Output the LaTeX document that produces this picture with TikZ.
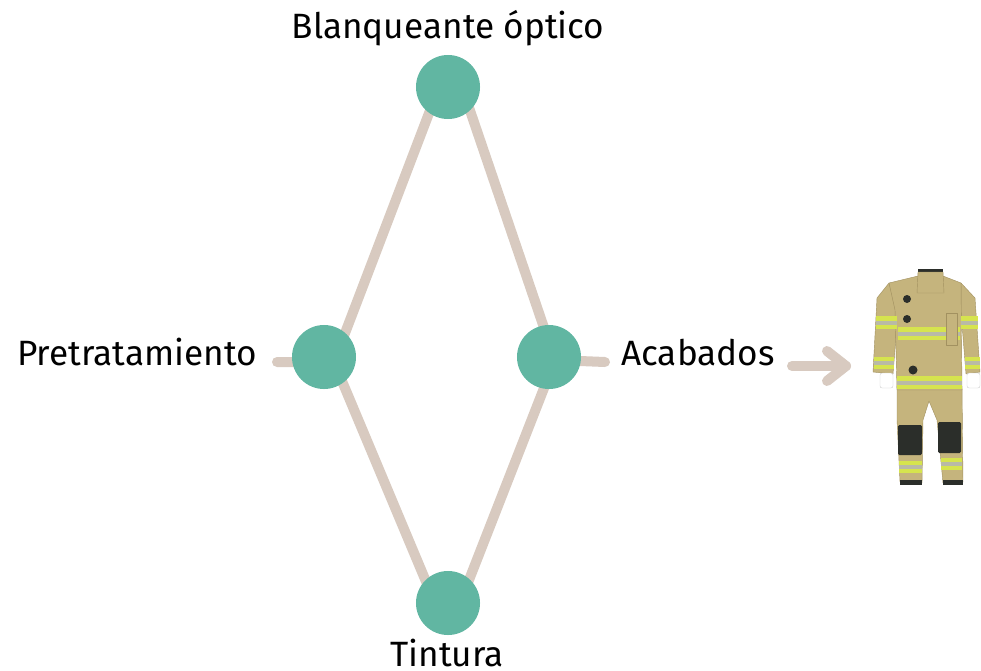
\documentclass[tikz,border=0pt]{standalone}
\usepackage{fontspec}
\setmainfont{Fira Sans}
\usetikzlibrary{positioning}
\definecolor{stagegreen}{HTML}{61B6A2}
\definecolor{linktan}{HTML}{D8CAC0}
\definecolor{suitkhaki}{HTML}{C5B47D}
\definecolor{suitdark}{HTML}{A29160}
\definecolor{tapelime}{HTML}{D6E44E}
\definecolor{tapegray}{HTML}{B9BAA6}
\definecolor{padblack}{HTML}{2B2E2A}
\tikzset{
  stage/.style={circle,fill=stagegreen,minimum size=1.6cm,inner sep=0pt},
  link/.style={draw=linktan,line width=0.25cm,line cap=round,line join=round},
  stage label/.style={font=\fontsize{25}{30}\selectfont,text=black,inner sep=0pt},
  suit part/.style={fill=suitkhaki,draw=suitdark,line width=0.3pt,line join=round},
  tape/.style={fill=tapelime,draw=none},
  tape core/.style={fill=tapegray,draw=none},
  pad/.style={fill=padblack,draw=none,rounded corners=1pt},
  glove/.style={fill=white,draw=gray!40,line width=0.3pt,rounded corners=1.5pt}
}
\begin{document}
\begin{tikzpicture}[x=0.025cm,y=-0.025cm]
  \useasboundingbox (0,0) rectangle (981,671);

  % diamond of process links
  \coordinate (top-a)      at (439,87);
  \coordinate (top-b)      at (462,87);
  \coordinate (bot-a)      at (435,603);
  \coordinate (bot-b)      at (460,603);
  \coordinate (left-join)  at (334,362);
  \coordinate (right-join) at (555,360);
  \coordinate (left-end)   at (277,362);
  \coordinate (right-end)  at (605,362);
  \draw[link] (left-end) -- (left-join) -- (top-a);
  \draw[link] (left-join) -- (bot-a);
  \draw[link] (right-end) -- (right-join) -- (top-b);
  \draw[link] (right-join) -- (bot-b);

  \node[stage] (blanq) at (448,87)  {};
  \node[stage] (pre)   at (324,357) {};
  \node[stage] (acab)  at (549,357) {};
  \node[stage] (tint)  at (448,603) {};

  \node[stage label,anchor=base]      (blanq-lbl) at (448,38)  {Blanqueante óptico};
  \node[stage label,anchor=base east] (pre-lbl)   at (257,365) {Pretratamiento};
  \node[stage label,anchor=base west] (acab-lbl)  at (621,365) {Acabados};
  \node[stage label,anchor=base]      (tint-lbl)  at (447,666) {Tintura};

  % arrow to the suit
  \coordinate (arr-start) at (792,366);
  \coordinate (arr-tip)   at (846,366);
  \draw[link] (arr-start) -- (arr-tip);
  \draw[link] ([shift={(-19,-15)}]arr-tip) -- (arr-tip) -- ([shift={(-19,15)}]arr-tip);

  % firefighter suit
  \begin{scope}
    % trousers
    \draw[suit part] (897,386) -- (962,386) -- (963,482) -- (943,483) -- (937,420)
      -- (929,401) -- (923,420) -- (922,483) -- (900,482) -- (897,420) -- cycle;
    \fill[pad] (898,425) rectangle (922,455);
    \fill[pad] (938,422) rectangle (961,453);
    \fill[tape] (899,461) rectangle (922,473);
    \fill[tape core] (899,465) rectangle (922,469);
    \fill[tape] (941,458) rectangle (962,470);
    \fill[tape core] (941,462) rectangle (962,466);
    \fill[padblack] (900,480) rectangle (922,485);
    \fill[padblack] (943,480) rectangle (963,485);
    % sleeves
    \draw[suit part] (889,283) -- (877,298) -- (873,372) -- (893,374) -- (898,312) -- cycle;
    \draw[suit part] (961,283) -- (975,298) -- (980,372) -- (966,374) -- (961,312) -- cycle;
    % jacket body
    \draw[suit part] (889,283) -- (918,276) -- (943,276) -- (961,283) -- (962,390)
      -- (897,390) -- (895,310) -- cycle;
    \fill[padblack] (918,269) rectangle (943,278);
    \draw[suit part] (918,272) -- (943,272) -- (944,293) -- (917,293) -- cycle;
    % reflective tape
    \fill[tape] (898,327) rectangle (960,340);
    \fill[tape core] (898,331.5) rectangle (960,335.5);
    \fill[tape] (897,376) rectangle (962,389);
    \fill[tape core] (897,380.5) rectangle (962,384.5);
    \fill[tape] (876,316) rectangle (897,329);
    \fill[tape core] (876,320.5) rectangle (897,324.5);
    \fill[tape] (961,316) rectangle (978,329);
    \fill[tape core] (961,320.5) rectangle (978,324.5);
    \fill[tape] (874,357) rectangle (894,369);
    \fill[tape core] (874,361) rectangle (894,365);
    \fill[tape] (965,357) rectangle (980,369);
    \fill[tape core] (965,361) rectangle (980,365);
    % pocket and badges
    \draw[suit part] (946,313) rectangle (957,345);
    \fill[padblack] (907,299) circle (4);
    \fill[padblack] (907,319) circle (4);
    \fill[padblack] (913,370) circle (4.5);
    % gloves
    \draw[glove] (880,373) rectangle (893,388);
    \draw[glove] (967,373) rectangle (980,388);
  \end{scope}
\end{tikzpicture}
\end{document}
